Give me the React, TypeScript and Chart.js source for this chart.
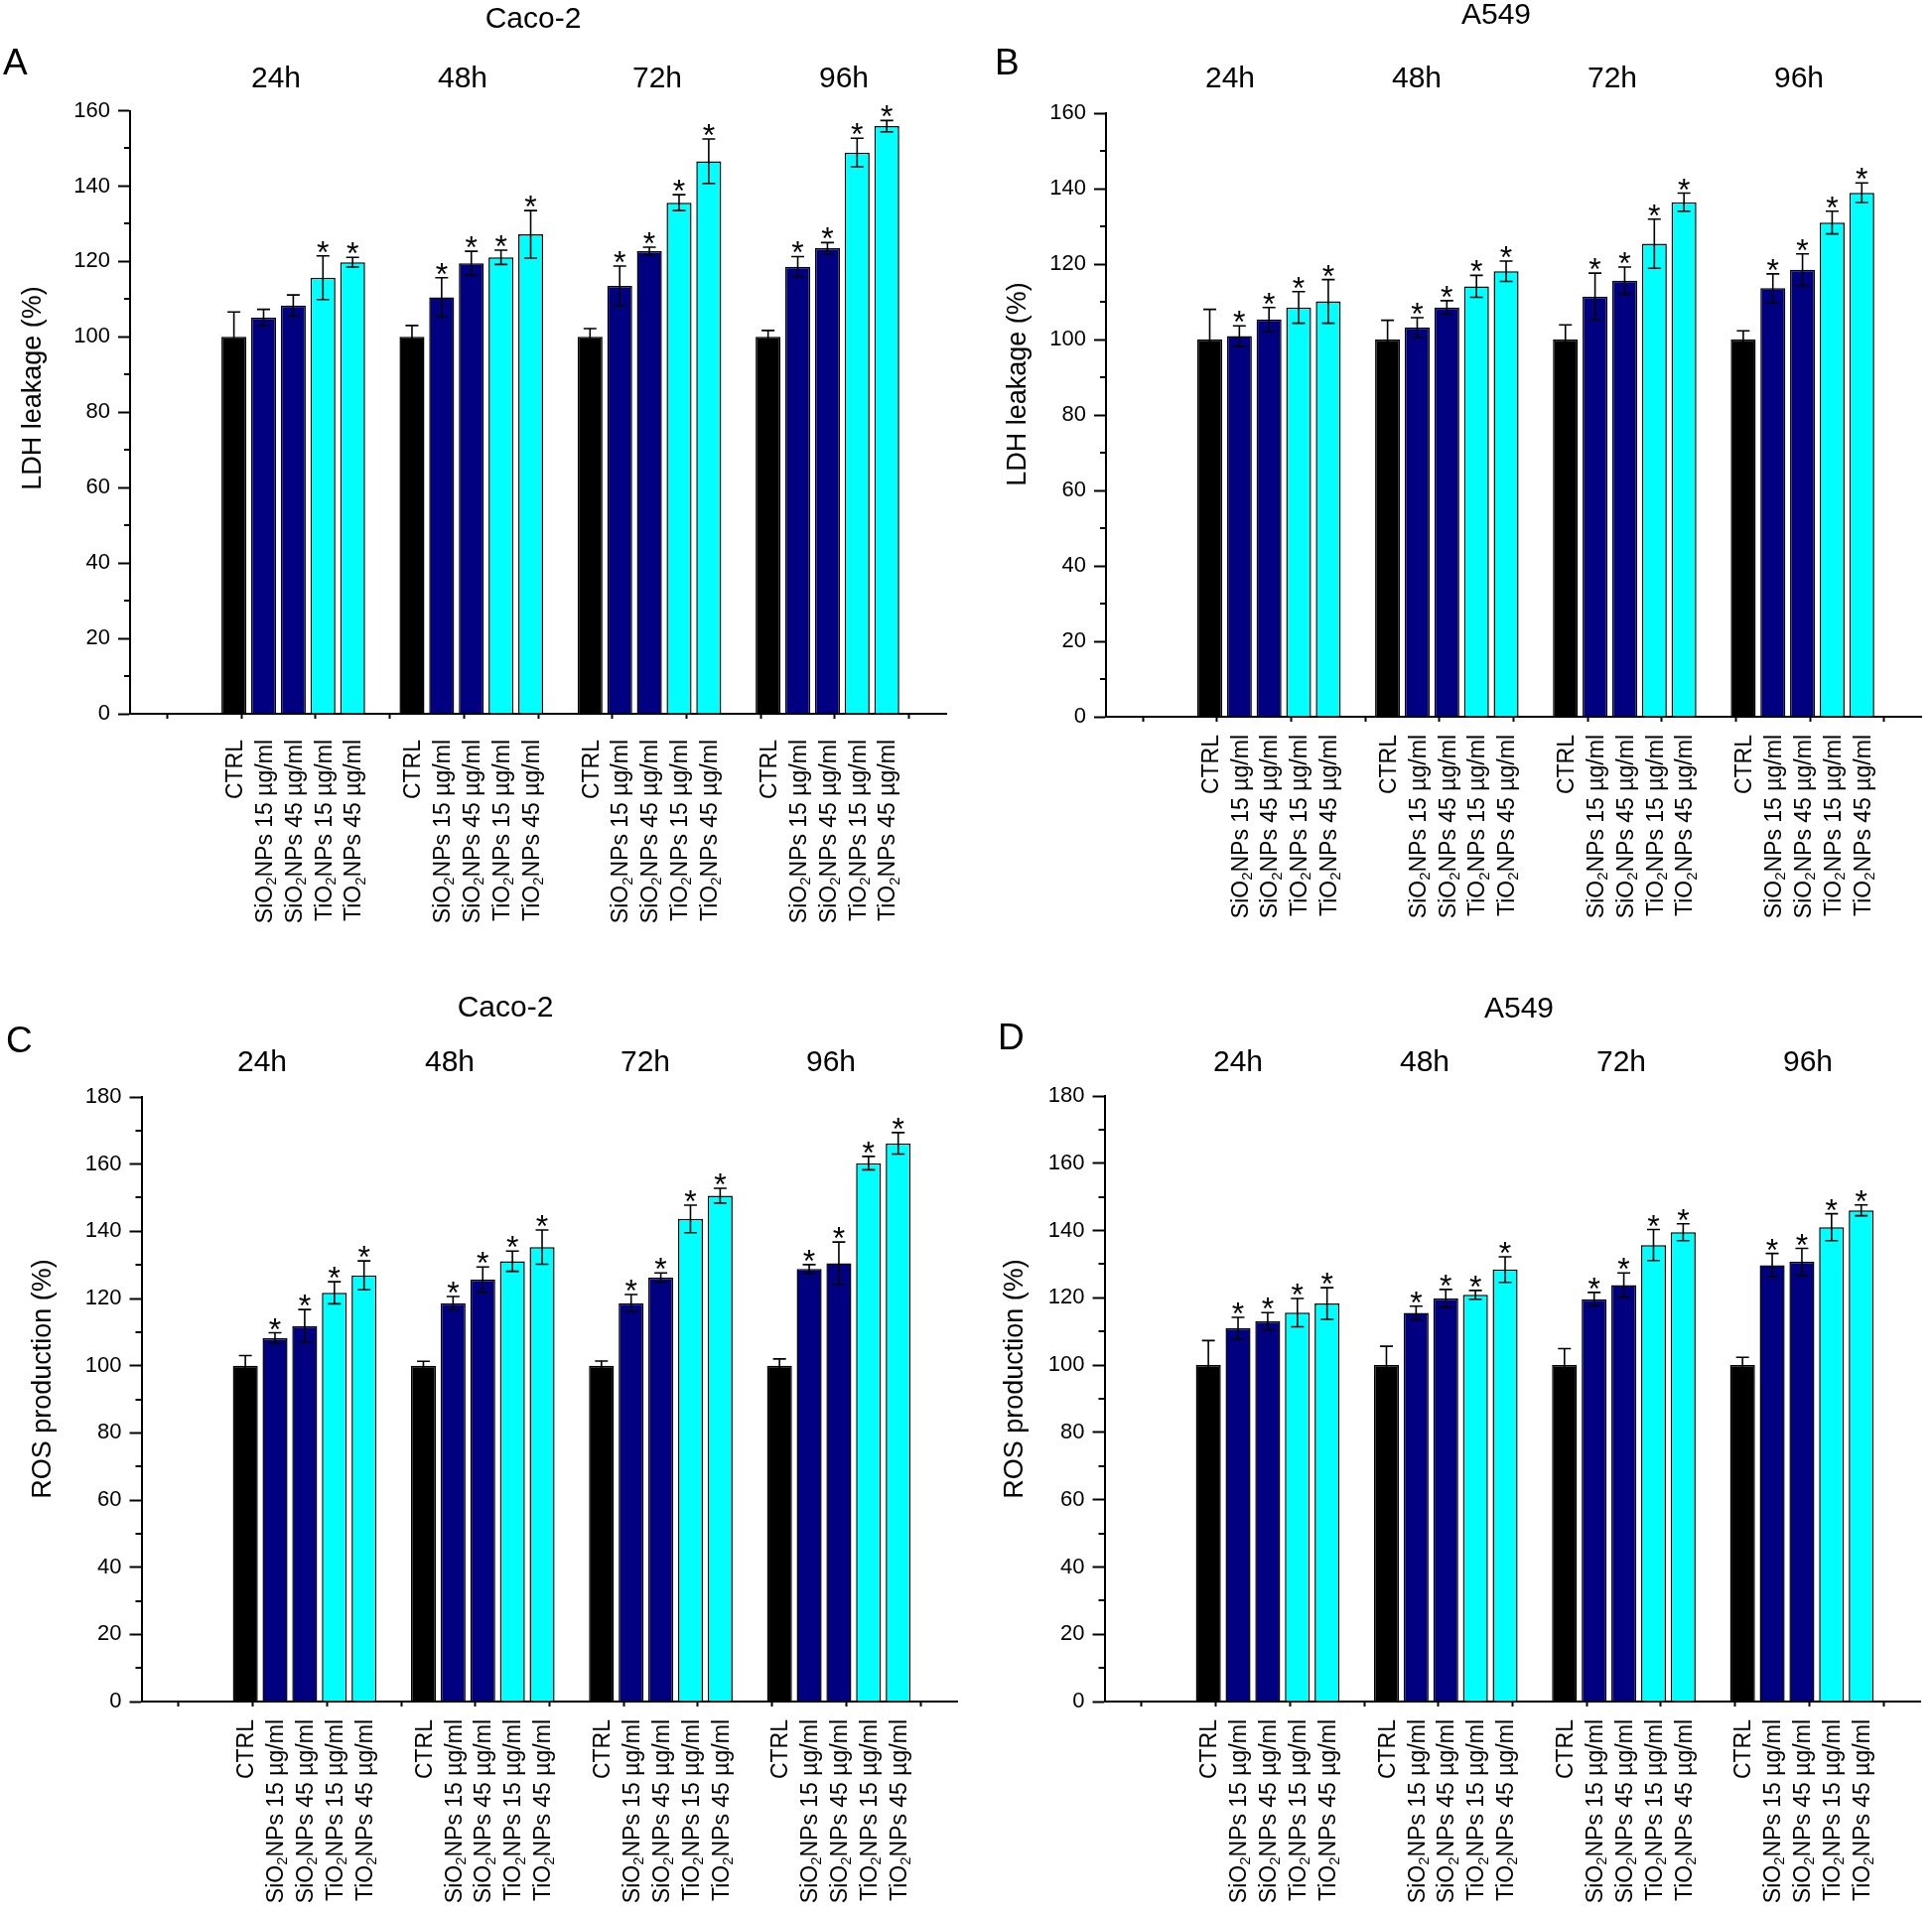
import React, { useEffect, useRef } from 'react';
import { Chart, registerables } from 'chart.js';

Chart.register(...registerables);

const FONT = "'Liberation Sans', Arial, Helvetica, sans-serif";

// ---- categories / labels ----
const timeLabels = ['24h', '48h', '72h', '96h'];
const treatmentLabels = [
  'CTRL',
  'SiO₂NPs 15 µg/ml',
  'SiO₂NPs 45 µg/ml',
  'TiO₂NPs 15 µg/ml',
  'TiO₂NPs 45 µg/ml',
];
const seriesColors = ['#000000', '#000080', '#000080', '#00FFFF', '#00FFFF'];

// ---- Panel A: LDH leakage, Caco-2 (rows: 24h, 48h, 72h, 96h; cols: treatments) ----
const ldhCacoMean = [
  [100, 105.1, 108.3, 115.7, 119.8],
  [100, 110.5, 119.5, 121.1, 127.2],
  [100, 113.5, 122.7, 135.6, 146.6],
  [100, 118.6, 123.5, 148.9, 155.9],
];
const ldhCacoErr = [
  [6.6, 2.2, 2.8, 5.8, 1.3],
  [3.0, 5.2, 3.2, 1.9, 6.3],
  [2.2, 5.3, 1.1, 2.1, 5.9],
  [1.7, 2.7, 1.5, 3.8, 1.5],
];
const ldhCacoSig = [
  [0, 0, 0, 1, 1],
  [0, 1, 1, 1, 1],
  [0, 1, 1, 1, 1],
  [0, 1, 1, 1, 1],
];

// ---- Panel B: LDH leakage, A549 ----
const ldhA549Mean = [
  [100, 100.9, 105.3, 108.5, 110.1],
  [100, 103.2, 108.5, 114.1, 118.1],
  [100, 111.4, 115.6, 125.4, 136.4],
  [100, 113.6, 118.5, 131.0, 138.9],
];
const ldhA549Err = [
  [8.0, 2.7, 3.2, 4.2, 5.8],
  [5.1, 2.6, 1.8, 2.9, 2.7],
  [3.9, 6.2, 3.6, 6.5, 2.4],
  [2.3, 3.8, 4.2, 3.0, 2.6],
];
const ldhA549Sig = [
  [0, 1, 1, 1, 1],
  [0, 1, 1, 1, 1],
  [0, 1, 1, 1, 1],
  [0, 1, 1, 1, 1],
];

// ---- Panel C: ROS production, Caco-2 ----
const rosCacoMean = [
  [100, 108.2, 111.8, 121.7, 126.9],
  [100, 118.6, 125.6, 131.1, 135.3],
  [100, 118.6, 126.2, 143.7, 150.6],
  [100, 128.8, 130.5, 160.3, 166.2],
];
const rosCacoErr = [
  [3.0, 1.6, 4.9, 3.3, 4.3],
  [1.3, 2.0, 3.8, 3.0, 5.1],
  [1.4, 2.6, 1.4, 4.1, 2.2],
  [2.0, 1.3, 6.3, 2.0, 3.2],
];
const rosCacoSig = [
  [0, 1, 1, 1, 1],
  [0, 1, 1, 1, 1],
  [0, 1, 1, 1, 1],
  [0, 1, 1, 1, 1],
];

// ---- Panel D: ROS production, A549 ----
const rosA549Mean = [
  [100, 111.0, 113.0, 115.6, 118.3],
  [100, 115.5, 119.8, 120.9, 128.4],
  [100, 119.6, 123.8, 135.7, 139.5],
  [100, 129.7, 130.7, 141.0, 146.0],
];
const rosA549Err = [
  [7.3, 3.2, 2.6, 4.2, 4.7],
  [5.6, 2.0, 2.7, 1.3, 3.8],
  [4.9, 2.0, 3.6, 4.6, 2.5],
  [2.3, 3.5, 4.0, 4.0, 1.6],
];
const rosA549Sig = [
  [0, 1, 1, 1, 1],
  [0, 1, 1, 1, 1],
  [0, 1, 1, 1, 1],
  [0, 1, 1, 1, 1],
];

// x-axis (Origin index axis): groups of 5 bars, one empty slot between groups
const X_MIN = 0;
const X_MAX = 27.5;
const X_TICK_STEP = 2.5;
const GROUP_START = 3.5;
const GROUP_STRIDE = 6;
const barX = (g: number, s: number) => GROUP_START + g * GROUP_STRIDE + s;

type PanelCfg = {
  left: number; top: number; w: number; h: number;
  yMax: number;
  mean: number[][]; err: number[][]; sig: number[][];
  axisLeft: number; axisRight: number; axisTop: number; axisBottom: number;
  title: string; titleX: number; titleY: number;
  letter: string; letterX: number; letterY: number;
  groupX: number[]; groupY: number;
  yTitle: string; yTitleX: number; yTitleY: number;
  labelGap: number;
};

const panels: PanelCfg[] = [
  {
    left: 0, top: 0, w: 973, h: 963, yMax: 160,
    mean: ldhCacoMean, err: ldhCacoErr, sig: ldhCacoSig,
    axisLeft: 131, axisRight: 953, axisTop: 111.5, axisBottom: 719,
    title: 'Caco-2', titleX: 537, titleY: 20,
    letter: 'A', letterX: 3, letterY: 65,
    groupX: [278, 466, 662, 850], groupY: 80,
    yTitle: 'LDH leakage (%)', yTitleX: 34, yTitleY: 391,
    labelGap: 26,
  },
  {
    left: 973, top: 0, w: 973, h: 963, yMax: 160,
    mean: ldhA549Mean, err: ldhA549Err, sig: ldhA549Sig,
    axisLeft: 141, axisRight: 962, axisTop: 114, axisBottom: 722,
    title: 'A549', titleX: 534, titleY: 16,
    letter: 'B', letterX: 29, letterY: 65,
    groupX: [266, 454, 651, 839], groupY: 80,
    yTitle: 'LDH leakage (%)', yTitleX: 53, yTitleY: 387,
    labelGap: 18,
  },
  {
    left: 0, top: 963, w: 973, h: 963, yMax: 180,
    mean: rosCacoMean, err: rosCacoErr, sig: rosCacoSig,
    axisLeft: 142.5, axisRight: 964.5, axisTop: 142, axisBottom: 751,
    title: 'Caco-2', titleX: 509, titleY: 53,
    letter: 'C', letterX: 6, letterY: 87,
    groupX: [264, 453, 650, 837], groupY: 108,
    yTitle: 'ROS production (%)', yTitleX: 44, yTitleY: 426,
    labelGap: 18,
  },
  {
    left: 973, top: 963, w: 973, h: 963, yMax: 180,
    mean: rosA549Mean, err: rosA549Err, sig: rosA549Sig,
    axisLeft: 139.5, axisRight: 961.5, axisTop: 141, axisBottom: 751,
    title: 'A549', titleX: 557, titleY: 54,
    letter: 'D', letterX: 32, letterY: 84,
    groupX: [274, 462, 660, 848], groupY: 108,
    yTitle: 'ROS production (%)', yTitleX: 50, yTitleY: 426,
    labelGap: 18,
  },
];

function drawRichRotated(ctx: CanvasRenderingContext2D, text: string, x: number, y: number, size: number) {
  const parts = text.split(/(₂)/).filter((p) => p.length > 0).map((p) =>
    p === '₂' ? { t: '2', sub: true } : { t: p, sub: false }
  );
  const normal = `${size}px ${FONT}`;
  const small = `${size * 0.65}px ${FONT}`;
  let total = 0;
  const widths = parts.map((p) => {
    ctx.font = p.sub ? small : normal;
    const w = ctx.measureText(p.t).width;
    total += w;
    return w;
  });
  ctx.save();
  ctx.translate(x, y);
  ctx.rotate(-Math.PI / 2);
  ctx.textAlign = 'left';
  ctx.textBaseline = 'alphabetic';
  let cx = -total;
  const base = size * 0.358;
  parts.forEach((p, i) => {
    ctx.font = p.sub ? small : normal;
    ctx.fillText(p.t, cx, p.sub ? base + size * 0.18 : base);
    cx += widths[i];
  });
  ctx.restore();
}

function Panel({ cfg }: { cfg: PanelCfg }) {
  const ref = useRef<HTMLCanvasElement | null>(null);

  useEffect(() => {
    const canvas = ref.current;
    if (!canvas) return;

    const datasets = treatmentLabels.map((lab, s) => ({
      label: lab,
      data: timeLabels.map((_, g) => ({ x: barX(g, s), y: cfg.mean[g][s] })),
      backgroundColor: seriesColors[s],
      borderColor: '#000000',
      borderWidth: 1.5,
      borderSkipped: 'start' as const,
      grouped: false,
      barPercentage: 0.84,
      categoryPercentage: 1,
    }));

    const annot = {
      id: 'annot',
      afterDatasetsDraw(chart: any) {
        const { ctx, scales } = chart;
        const x = scales.x, y = scales.y;
        ctx.save();
        ctx.strokeStyle = '#000';
        ctx.fillStyle = '#000';
        ctx.lineWidth = 1.6;
        const cap = 6.5;
        for (let g = 0; g < timeLabels.length; g++) {
          for (let s = 0; s < treatmentLabels.length; s++) {
            const px = x.getPixelForValue(barX(g, s));
            const m = cfg.mean[g][s];
            const e = cfg.err[g][s];
            const yt = y.getPixelForValue(m + e);
            const yb = y.getPixelForValue(m - e);
            ctx.beginPath();
            ctx.moveTo(px, yb); ctx.lineTo(px, yt);
            ctx.moveTo(px - cap, yt); ctx.lineTo(px + cap, yt);
            ctx.moveTo(px - cap, yb); ctx.lineTo(px + cap, yb);
            ctx.stroke();
            if (cfg.sig[g][s]) {
              ctx.font = `32px ${FONT}`;
              ctx.textAlign = 'center';
              ctx.textBaseline = 'alphabetic';
              ctx.fillText('*', px, yt + 7);
            }
          }
        }
        ctx.restore();
      },
      afterDraw(chart: any) {
        const { ctx, scales, chartArea } = chart;
        const x = scales.x, y = scales.y;
        ctx.save();
        ctx.fillStyle = '#000';
        ctx.strokeStyle = '#000';
        // minor y ticks
        ctx.lineWidth = 2;
        for (let v = 10; v < cfg.yMax; v += 20) {
          const py = Math.round(y.getPixelForValue(v));
          ctx.beginPath();
          ctx.moveTo(chartArea.left - 6, py);
          ctx.lineTo(chartArea.left, py);
          ctx.stroke();
        }
        // category labels under bars
        for (let g = 0; g < timeLabels.length; g++) {
          for (let s = 0; s < treatmentLabels.length; s++) {
            const px = x.getPixelForValue(barX(g, s));
            drawRichRotated(ctx, treatmentLabels[s], px, chartArea.bottom + cfg.labelGap, 23);
          }
        }
        // group (time) labels
        ctx.font = `30px ${FONT}`;
        ctx.textAlign = 'center';
        ctx.textBaseline = 'middle';
        timeLabels.forEach((t, g) => ctx.fillText(t, cfg.groupX[g], cfg.groupY));
        // panel title
        ctx.font = `30px ${FONT}`;
        ctx.fillText(cfg.title, cfg.titleX, cfg.titleY);
        // panel letter
        ctx.font = `37px ${FONT}`;
        ctx.textAlign = 'left';
        ctx.fillText(cfg.letter, cfg.letterX, cfg.letterY);
        // y axis title
        ctx.save();
        ctx.translate(cfg.yTitleX, cfg.yTitleY);
        ctx.rotate(-Math.PI / 2);
        ctx.font = `27px ${FONT}`;
        ctx.textAlign = 'center';
        ctx.textBaseline = 'middle';
        ctx.fillText(cfg.yTitle, 0, 0);
        ctx.restore();
        ctx.restore();
      },
    };

    const xTicks: number[] = [];
    for (let v = X_MIN; v <= X_MAX + 1e-9; v += X_TICK_STEP) xTicks.push(v);

    const chart = new Chart(canvas, {
      type: 'bar',
      data: { datasets: datasets as any },
      options: {
        responsive: false,
        maintainAspectRatio: false,
        animation: false,
        events: [],
        layout: {
          padding: {
            left: 0,
            right: cfg.w - cfg.axisRight,
            top: cfg.axisTop,
            bottom: cfg.h - cfg.axisBottom - 5,
          },
        },
        plugins: {
          legend: { display: false },
          tooltip: { enabled: false },
          title: { display: false },
        },
        scales: {
          x: {
            type: 'linear',
            min: X_MIN,
            max: X_MAX,
            offset: false,
            ticks: { display: false },
            afterBuildTicks: (s: any) => { s.ticks = xTicks.map((v) => ({ value: v })); },
            grid: {
              drawOnChartArea: false,
              drawTicks: true,
              tickLength: 5,
              tickWidth: 2,
              tickColor: '#000',
            },
            border: { display: true, color: '#000', width: 2 },
            afterFit: (s: any) => { s.height = 5; },
          },
          y: {
            type: 'linear',
            min: 0,
            max: cfg.yMax,
            ticks: {
              stepSize: 20,
              color: '#000',
              font: { family: FONT, size: 22 },
              padding: 8,
            },
            grid: {
              drawOnChartArea: false,
              drawTicks: true,
              tickLength: 12,
              tickWidth: 2,
              tickColor: '#000',
            },
            border: { display: true, color: '#000', width: 2 },
            afterFit: (s: any) => { s.width = cfg.axisLeft; },
          },
        },
      } as any,
      plugins: [annot],
    });

    return () => chart.destroy();
  }, [cfg]);

  return (
    <canvas
      ref={ref}
      width={cfg.w}
      height={cfg.h}
      style={{ position: 'absolute', left: cfg.left, top: cfg.top, width: cfg.w, height: cfg.h }}
    />
  );
}

export default function App() {
  return (
    <div style={{ position: 'absolute', left: 0, top: 0, width: 1946, height: 1926, background: '#ffffff', overflow: 'hidden' }}>
      {panels.map((p) => (
        <Panel key={p.letter} cfg={p} />
      ))}
    </div>
  );
}
